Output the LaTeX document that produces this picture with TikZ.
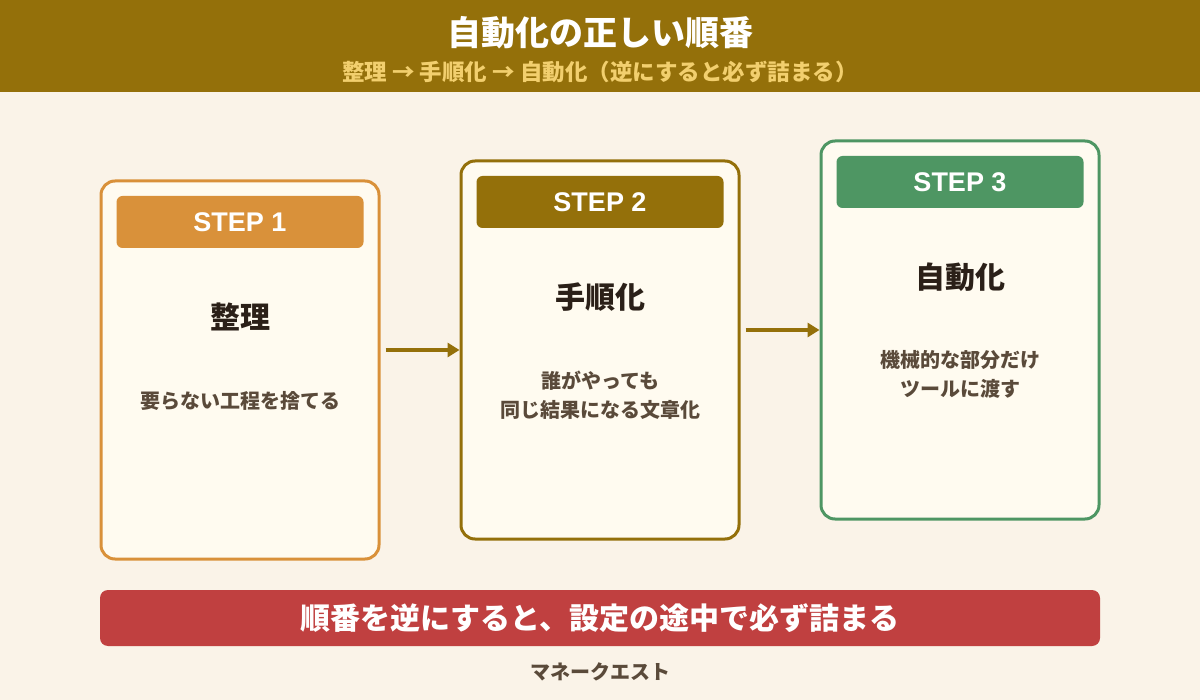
\documentclass[tikz,border=0pt]{standalone}
\usepackage{fontspec}
\setmainfont{Noto Sans CJK JP}
\newfontfamily\lat{Liberation Sans}
\usetikzlibrary{arrows.meta}
\definecolor{bg}{HTML}{FAF3E8}
\definecolor{gold}{HTML}{94700A}
\definecolor{lgold}{HTML}{F2CF6E}
\definecolor{org}{HTML}{D9913A}
\definecolor{grn}{HTML}{4E9663}
\definecolor{red}{HTML}{C04040}
\definecolor{card}{HTML}{FFFBF0}
\definecolor{ink}{HTML}{2B2018}
\definecolor{sub}{HTML}{5A4A3A}
\begin{document}
\begin{tikzpicture}[x=1pt,y=-1pt,
 card/.style={draw=#1,line width=3pt,fill=card,rounded corners=14pt,minimum width=278pt,minimum height=378pt,inner sep=0},
 bar/.style={fill=#1,rounded corners=6pt,minimum width=247pt,minimum height=52pt,text=white,font=\lat\fontsize{27}{27}\selectfont\bfseries},
 ttl/.style={text=ink,font=\fontsize{30}{30}\selectfont\bfseries},
 desc/.style={text=sub,align=center,font=\fontsize{20}{29}\selectfont\bfseries},
 arr/.style={draw=gold,line width=4pt,-{Triangle[length=12pt,width=14pt]}}]
\useasboundingbox (0,0) rectangle (1200,700);
\fill[bg] (0,0) rectangle (1200,700);
\fill[gold] (0,0) rectangle (1200,92);
\node[text=white,font=\fontsize{34}{34}\selectfont\bfseries] (t) at (600,33) {自動化の正しい順番};
\node[text=lgold,font=\fontsize{22.5}{22.5}\selectfont\bfseries] (st) at (600,72) {整理 → 手順化 → 自動化（逆にすると必ず詰まる）};
\node[card=org] (b1) at (240,370) {};
\node[card=gold] (b2) at (600,350) {};
\node[card=grn] (b3) at (960,330) {};
\node[bar=org] (s1) at (240,222) {STEP 1};
\node[bar=gold] (s2) at (600,202) {STEP 2};
\node[bar=grn] (s3) at (960,182) {STEP 3};
\node[ttl] (h1) at (240,317) {整理};
\node[ttl] (h2) at (600,297) {手順化};
\node[ttl] (h3) at (960,277) {自動化};
\node[desc] (d1) at (240,401) {要らない工程を捨てる};
\node[desc] (d2) at (600,395) {誰がやっても\\同じ結果になる文章化};
\node[desc] (d3) at (960,374) {機械的な部分だけ\\ツールに渡す};
\draw[arr] ([xshift=5pt,yshift=20pt]b1.east) -- (b2.west);
\draw[arr] ([xshift=5pt,yshift=20pt]b2.east) -- (b3.west);
\node[fill=red,rounded corners=8pt,minimum width=1000pt,minimum height=56pt,text=white,font=\fontsize{30}{30}\selectfont\bfseries] (bn) at (600,618) {順番を逆にすると、設定の途中で必ず詰まる};
\node[text=sub,font=\fontsize{20}{20}\selectfont\bfseries] (ft) at (600,672) {マネークエスト};
\end{tikzpicture}
\end{document}
